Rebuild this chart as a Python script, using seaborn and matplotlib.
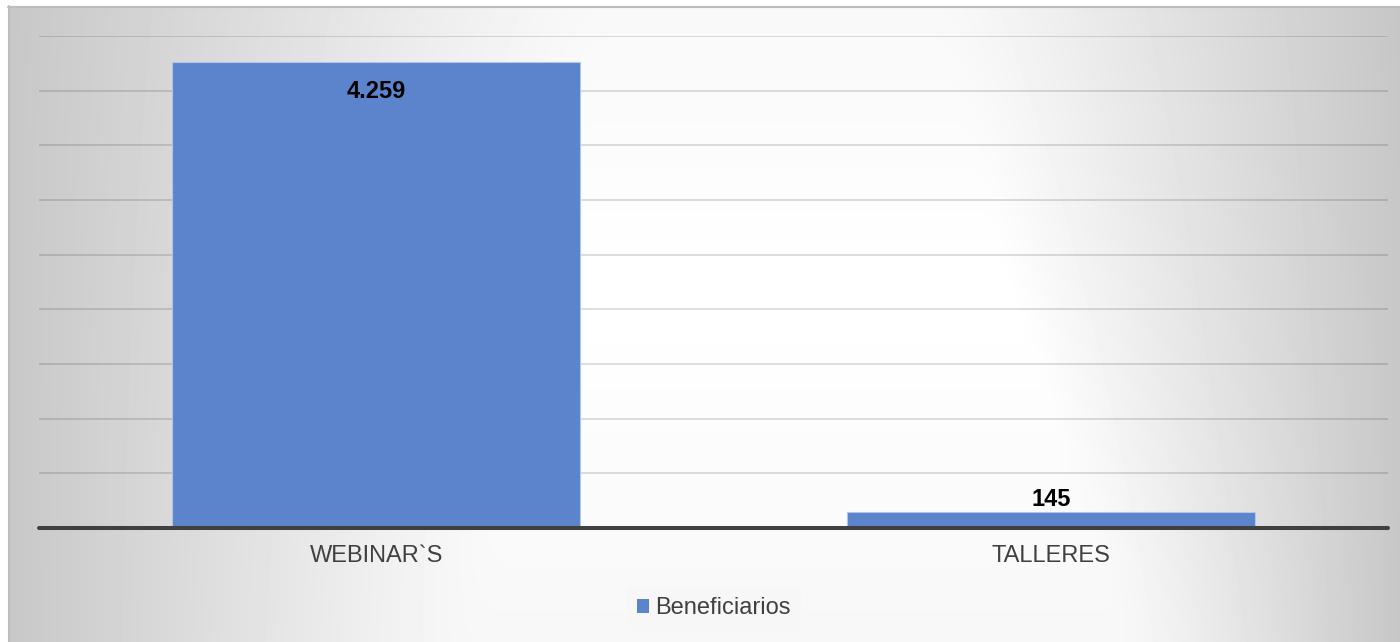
import numpy as np
import pandas as pd
import matplotlib
matplotlib.use("Agg")
import matplotlib.pyplot as plt
from matplotlib.patches import Patch
import seaborn as sns

# chart data
categorias = ["WEBINAR`S", "TALLERES"]
beneficiarios = [4259, 145]
serie = "Beneficiarios"
y_ticks = [0, 500, 1000, 1500, 2000, 2500, 3000, 3500, 4000, 4500]

BAR_COLOR = "#5b84cc"
TEXT_COLOR = "#404040"

sns.set_theme(style="white")
plt.rcParams["font.family"] = ["Liberation Sans", "DejaVu Sans"]

W, H = 1400, 642
fig = plt.figure(figsize=(W / 100, H / 100), dpi=100)
fig.patch.set_facecolor("white")

# background: light gradient in the chart area
bg = fig.add_axes([0, 0, 1, 1], zorder=-10)
yy, xx = np.mgrid[0:H, 0:W].astype(float)
left_edge = 620 - 0.2 * yy
right_edge = 920 + 0.3 * yy
tx = np.where(xx < left_edge, (left_edge - xx) / left_edge,
              np.where(xx > right_edge, (xx - right_edge) / (W - right_edge), 0.0))
ty = (yy - 300) / 300
r = np.clip(np.sqrt(tx ** 2 + (ty * 0.12) ** 2), 0, 1)
shade = 1 - 0.22 * r
shade[:6, :] = 1.0
shade[:, :8] = 1.0
bg.imshow(shade, cmap="gray", vmin=0, vmax=1, extent=(0, W, H, 0), aspect="auto",
          interpolation="bilinear")
bg.plot([8, W], [6.5, 6.5], color="#bdbdbd", lw=1.5)
bg.plot([8.5, 8.5], [6, H], color="#bdbdbd", lw=1.5)
bg.set_xlim(0, W)
bg.set_ylim(H, 0)
bg.axis("off")

ax = fig.add_axes([39 / W, 1 - 528 / H, (1388 - 39) / W, (528 - 36) / H])
ax.set_facecolor("none")

df = pd.DataFrame({"categoria": categorias, "valor": beneficiarios})
sns.barplot(data=df, x="categoria", y="valor", color=BAR_COLOR, saturation=1,
            width=0.605, edgecolor="#b4c6e8", linewidth=0.8, ax=ax, zorder=3)

ax.set_ylim(y_ticks[0], y_ticks[-1])
ax.set_xlim(-0.5, len(categorias) - 0.5)
ax.set_yticks(y_ticks)
ax.set_yticklabels([])
ax.tick_params(axis="y", length=0)
ax.yaxis.grid(True, color="black", alpha=0.17, lw=1.1)
ax.set_axisbelow(True)
for s in ax.spines.values():
    s.set_visible(False)
ax.axhline(0, color=TEXT_COLOR, lw=2.9, zorder=5, clip_on=False)

ax.set_xlabel("")
ax.set_ylabel("")
ax.tick_params(axis="x", length=0, pad=12, labelsize=17, labelcolor=TEXT_COLOR)

# data labels
for i, v in enumerate(beneficiarios):
    txt = f"{v:,}".replace(",", ".")
    if v > 1000:
        ax.annotate(txt, (i, v), xytext=(0, -18), textcoords="offset pixels",
                    ha="center", va="top", fontsize=17, fontweight="bold", color="black", zorder=6)
    else:
        ax.annotate(txt, (i, v), xytext=(0, 1), textcoords="offset pixels",
                    ha="center", va="bottom", fontsize=17, fontweight="bold", color="black", zorder=6)

handle = Patch(facecolor=BAR_COLOR, edgecolor="none", label=serie)
leg = fig.legend(handles=[handle], loc="center", bbox_to_anchor=(714 / W, 1 - 608.5 / H),
                 frameon=True, fancybox=False, fontsize=17, handlelength=0.5, handleheight=0.5,
                 handletextpad=0.25, borderpad=0.45, labelcolor=TEXT_COLOR)
leg.get_frame().set_facecolor("#f7f7f7")
leg.get_frame().set_edgecolor("none")
leg.get_frame().set_alpha(1)

fig.savefig("out.png", dpi=100)
